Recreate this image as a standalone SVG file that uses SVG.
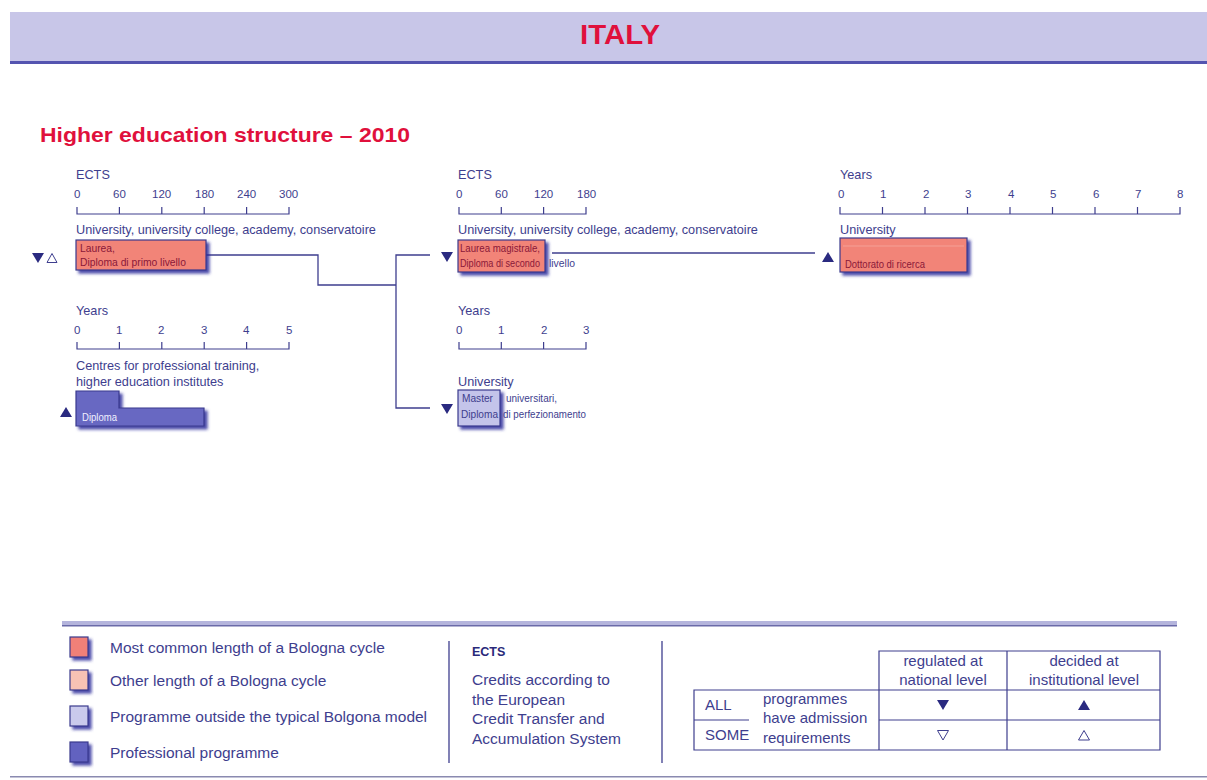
<svg xmlns="http://www.w3.org/2000/svg" width="1207" height="780" viewBox="0 0 1207 780">
<defs>
<filter id="sh" x="-20%" y="-20%" width="150%" height="160%">
<feDropShadow dx="3" dy="3" stdDeviation="1.6" flood-color="#2a2a9a" flood-opacity="0.85"/>
</filter>
<style>
text{font-family:"Liberation Sans",Arial,sans-serif;fill:#3e3e8e}
.t{font-size:12.7px}
.n{font-size:11.5px}
.bx{font-size:10.3px}
.leg{font-size:15.5px}
.tb{font-size:15px}
.axis{fill:none;stroke:#3e3e8e;stroke-width:1.2}
.con{fill:none;stroke:#3e3e8e;stroke-width:1.3}
.tri{fill:#2a2a80}
.otri{fill:none;stroke:#3e3e8e;stroke-width:1}
.box{stroke:#3a3a8e;stroke-width:1.2;filter:url(#sh)}
.red{fill:#e0103c;font-weight:bold}
.cell{fill:none;stroke:#3e3e8e;stroke-width:1.2}
.dr{fill:#8a1838}
</style>
</defs>
<rect width="1207" height="780" fill="#ffffff"/>

<!-- header -->
<g id="header">
<rect x="10" y="12" width="1197" height="49" fill="#c8c6e8"/>
<rect x="10" y="61" width="1197" height="3" fill="#5454b0"/>
<text x="580" y="44" class="red" font-size="27" textLength="80" lengthAdjust="spacingAndGlyphs">ITALY</text>
<text x="40" y="142" class="red" font-size="21" textLength="370" lengthAdjust="spacingAndGlyphs">Higher education structure – 2010</text>
</g>

<!-- scale 1 ECTS -->
<g id="scale-ects-1">
<text x="76" y="179" class="t">ECTS</text>
<g class="n">
<text x="74" y="198">0</text><text x="113" y="198">60</text><text x="152" y="198">120</text><text x="195" y="198">180</text><text x="237" y="198">240</text><text x="279" y="198">300</text>
</g>
<path class="axis" d="M77 207V214H289V207M119.4 207V214M161.8 207V214M204.2 207V214M246.6 207V214"/>
</g>

<!-- scale 2 ECTS -->
<g id="scale-ects-2">
<text x="458" y="179" class="t">ECTS</text>
<g class="n">
<text x="456" y="198">0</text><text x="495" y="198">60</text><text x="534" y="198">120</text><text x="577" y="198">180</text>
</g>
<path class="axis" d="M459 207V214H586V207M501.3 207V214M543.6 207V214"/>
</g>

<!-- scale 3 years -->
<g id="scale-years-3">
<text x="840" y="179" class="t">Years</text>
<g class="n">
<text x="838" y="198">0</text><text x="880" y="198">1</text><text x="923" y="198">2</text><text x="965" y="198">3</text><text x="1008" y="198">4</text><text x="1050" y="198">5</text><text x="1093" y="198">6</text><text x="1135" y="198">7</text><text x="1177" y="198">8</text>
</g>
<path class="axis" d="M840 207V214H1180V207M882.5 207V214M925 207V214M967.5 207V214M1010 207V214M1052.5 207V214M1095 207V214M1137.5 207V214"/>
</g>

<!-- scale 4 years -->
<g id="scale-years-4">
<text x="76" y="315" class="t">Years</text>
<g class="n">
<text x="74" y="334">0</text><text x="116" y="334">1</text><text x="158" y="334">2</text><text x="201" y="334">3</text><text x="243" y="334">4</text><text x="286" y="334">5</text>
</g>
<path class="axis" d="M77 342V349H289V342M119.4 342V349M161.8 342V349M204.2 342V349M246.6 342V349"/>
</g>

<!-- scale 5 years -->
<g id="scale-years-5">
<text x="458" y="315" class="t">Years</text>
<g class="n">
<text x="456" y="334">0</text><text x="498" y="334">1</text><text x="541" y="334">2</text><text x="583" y="334">3</text>
</g>
<path class="axis" d="M459 342V349H586V342M501.3 342V349M543.6 342V349"/>
</g>

<!-- connectors -->
<g id="connectors">
<path class="con" d="M206 255H318V285H396"/>
<path class="con" d="M430 255H396V408H430"/>
<path class="con" d="M552 253H815"/>
</g>

<!-- node: Laurea -->
<g id="laurea">
<text x="76" y="234" class="t">University, university college, academy, conservatoire</text>
<rect class="box" x="76" y="240" width="130" height="30" fill="#f28478"/>
<text x="80" y="252" class="bx dr">Laurea,</text>
<text x="80" y="266" class="bx dr">Diploma di primo livello</text>
<path class="tri" d="M32 253H44L38 263Z"/>
<path class="otri" d="M47 262.5H57L52 253.5Z"/>
</g>

<!-- node: Laurea magistrale -->
<g id="laurea-magistrale">
<text x="458" y="234" class="t">University, university college, academy, conservatoire</text>
<rect class="box" x="458" y="240" width="87" height="32" fill="#f28478"/>
<text x="460" y="252" class="bx dr" textLength="80" lengthAdjust="spacingAndGlyphs">Laurea magistrale,</text>
<text x="460" y="267" class="bx dr" textLength="80" lengthAdjust="spacingAndGlyphs">Diploma di secondo</text>
<text x="549" y="267" class="bx" textLength="26" lengthAdjust="spacingAndGlyphs">livello</text>
<path class="tri" d="M441 252H453L447 262Z"/>
</g>

<!-- node: Dottorato -->
<g id="dottorato">
<text x="840" y="234" class="t">University</text>
<rect class="box" x="840" y="238" width="127" height="34" fill="#f28478"/>
<line x1="843" y1="246" x2="964" y2="246" stroke="#f6a8a0" stroke-width="0.8"/>
<text x="845" y="268" class="bx dr" textLength="80" lengthAdjust="spacingAndGlyphs">Dottorato di ricerca</text>
<path class="tri" d="M822 262H834L828 252Z"/>
</g>

<!-- node: Diploma professional -->
<g id="diploma">
<text x="76" y="370" class="t">Centres for professional training,</text>
<text x="76" y="386" class="t">higher education institutes</text>
<path class="box" d="M76 391H119V408H204V426H76Z" fill="#6868c2"/>
<text x="82" y="421" class="bx" style="fill:#f0f0ff" textLength="35" lengthAdjust="spacingAndGlyphs">Diploma</text>
<path class="tri" d="M60 417H72L66 407Z"/>
</g>

<!-- node: Master universitari -->
<g id="master">
<text x="458" y="386" class="t">University</text>
<rect class="box" x="458" y="390" width="42" height="36" fill="#c4c4ea"/>
<text x="462" y="402" class="bx" textLength="31" lengthAdjust="spacingAndGlyphs">Master</text>
<text x="506" y="402" class="bx" textLength="51" lengthAdjust="spacingAndGlyphs">universitari,</text>
<text x="461" y="418" class="bx" textLength="37" lengthAdjust="spacingAndGlyphs">Diploma</text>
<text x="503" y="418" class="bx" textLength="83" lengthAdjust="spacingAndGlyphs">di perfezionamento</text>
<path class="tri" d="M441 404H453L447 414Z"/>
</g>

<!-- legend -->
<g id="legend">
<rect x="62" y="621" width="1115" height="4" fill="#b4b4dc"/>
<rect x="62" y="625" width="1115" height="1.5" fill="#6a6aa8"/>
<rect x="10" y="776" width="1197" height="1.5" fill="#8a8ab0"/>
<rect class="box" x="70" y="637" width="18" height="20" fill="#f08078"/>
<rect class="box" x="70" y="670" width="18" height="20" fill="#f8c2b4"/>
<rect class="box" x="70" y="706" width="18" height="20" fill="#cacaec"/>
<rect class="box" x="70" y="742" width="18" height="20" fill="#6262c0"/>
<text x="110" y="653" class="leg">Most common length of a Bologna cycle</text>
<text x="110" y="686" class="leg">Other length of a Bologna cycle</text>
<text x="110" y="722" class="leg">Programme outside the typical Bolgona model</text>
<text x="110" y="758" class="leg">Professional programme</text>
<line x1="449" y1="641" x2="449" y2="763" stroke="#3e3e8e" stroke-width="1.3"/>
<line x1="662" y1="641" x2="662" y2="763" stroke="#3e3e8e" stroke-width="1.3"/>
<text x="472" y="656" font-size="12.5" font-weight="bold" style="fill:#2a2a7a">ECTS</text>
<text x="472" y="685" class="leg">Credits according to</text>
<text x="472" y="705" class="leg">the European</text>
<text x="472" y="724" class="leg">Credit Transfer and</text>
<text x="472" y="744" class="leg">Accumulation System</text>
</g>

<!-- admission table -->
<g id="admission-table">
<path class="cell" d="M879 690V651H1160V750H694V690H1160M1007 651V750M879 690V750M879 720H1160M694 720H749"/>
<text x="943" y="666" class="tb" text-anchor="middle">regulated at</text>
<text x="943" y="685" class="tb" text-anchor="middle">national level</text>
<text x="1084" y="666" class="tb" text-anchor="middle">decided at</text>
<text x="1084" y="685" class="tb" text-anchor="middle">institutional level</text>
<text x="705" y="710" class="tb">ALL</text>
<text x="705" y="740" class="tb">SOME</text>
<text x="763" y="704" class="tb">programmes</text>
<text x="763" y="723" class="tb">have admission</text>
<text x="763" y="743" class="tb">requirements</text>
<path class="tri" d="M937 700H949L943 710Z"/>
<path class="tri" d="M1078 710H1090L1084 700Z"/>
<path class="otri" d="M937.5 730.5H948.5L943 740Z"/>
<path class="otri" d="M1078.5 740H1089.5L1084 730.5Z"/>
</g>
</svg>
